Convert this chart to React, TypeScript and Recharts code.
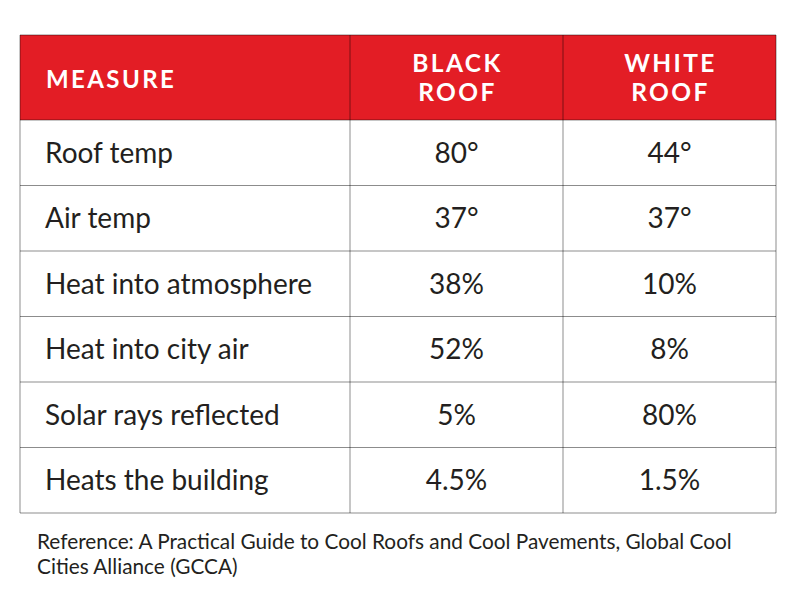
import React from 'react';
import { ScatterChart, Scatter, XAxis, YAxis, CartesianGrid } from 'recharts';

// table contents
const measures = [
  'Roof temp',
  'Air temp',
  'Heat into atmosphere',
  'Heat into city air',
  'Solar rays reflected',
  'Heats the building',
];
const roofTypes = ['BLACK ROOF', 'WHITE ROOF'];
const blackRoof = ['80°', '37°', '38%', '52%', '5%', '4.5%'];
const whiteRoof = ['44°', '37°', '10%', '8%', '80%', '1.5%'];
const headerLabel = 'MEASURE';
const captionLines = [
  'Reference: A Practical Guide to Cool Roofs and Cool Pavements, Global Cool',
  'Cities Alliance (GCCA)',
];

const RED = '#E31D25';
const INK = '#231F20';
const FONT = 'Lato, "Open Sans", sans-serif';

const W = 800;
const H = 600;
const TABLE_LEFT = 20;
const TABLE_TOP = 35;
const TABLE_RIGHT = 776;
const HEADER_H = 85;
const MEASURE_COL_W = 330;
const BOTTOM_GAP = 87;

const blackData = measures.map((m, i) => ({ measure: m, roof: roofTypes[0], text: blackRoof[i] }));
const whiteData = measures.map((m, i) => ({ measure: m, roof: roofTypes[1], text: whiteRoof[i] }));

// edges of every band of a category scale (falls back to an even split of the plot box)
function bandEdges(scale: any, cats: string[], start: number, size: number): number[] {
  try {
    const map =
      typeof scale === 'function' ? scale : typeof scale?.map === 'function' ? (v: string) => scale.map(v) : null;
    if (map && typeof scale.bandwidth === 'function') {
      const bw = scale.bandwidth();
      const edges = new Set<number>();
      cats.forEach((c) => {
        const p = map(c);
        if (Number.isFinite(p)) {
          edges.add(p);
          edges.add(p + bw);
        }
      });
      if (edges.size) return [...edges];
    }
  } catch (e) {
    // fall through
  }
  return Array.from({ length: cats.length + 1 }, (_, i) => start + (i * size) / cats.length);
}

const RowTick = ({ y, payload }: any) => (
  <text x={TABLE_LEFT + 25} y={y} dy={10} textAnchor="start" fill={INK} fontSize={28} fontFamily={FONT}>
    {payload.value}
  </text>
);

const RoofTick = ({ x, payload }: any) => {
  const words = String(payload.value).split(' ');
  return (
    <text x={x} textAnchor="middle" fill="#fff" fontSize={24.5} fontWeight={700} fontFamily={FONT} letterSpacing={2.4}>
      {words.map((w, i) => (
        <tspan key={w} x={x + 1} y={TABLE_TOP + 37 + i * 29}>{w}</tspan>
      ))}
    </text>
  );
};

const MeasureHeader = (props: any) => (
  <text x={TABLE_LEFT + 26} y={TABLE_TOP + 53} fill="#fff" fontSize={24} fontWeight={700} fontFamily={FONT} letterSpacing={2.4}>
    {props.value}
  </text>
);

const CellText = ({ cx, cy, payload }: any) => (
  <text x={cx} y={cy} dy={10} textAnchor="middle" fill={INK} fontSize={28} fontFamily={FONT}>
    {payload.text}
  </text>
);

export default function App() {
  return (
    <div style={{ position: 'absolute', left: 0, top: 0, width: W, height: H, background: '#fff' }}>
      <ScatterChart
        width={W}
        height={H}
        margin={{ top: TABLE_TOP, right: W - TABLE_RIGHT, bottom: BOTTOM_GAP, left: TABLE_LEFT }}
      >
        {/* red header band */}
        <CartesianGrid
          x={TABLE_LEFT}
          y={TABLE_TOP}
          width={TABLE_RIGHT - TABLE_LEFT}
          height={HEADER_H}
          fill={RED}
          fillOpacity={1}
          horizontal={false}
          vertical={false}
        />
        {/* cell borders: dark translucent so they read gray on white, dark red on red */}
        <CartesianGrid
          x={TABLE_LEFT}
          y={TABLE_TOP}
          width={TABLE_RIGHT - TABLE_LEFT}
          height={H - BOTTOM_GAP - TABLE_TOP}
          stroke="#000"
          strokeOpacity={0.45}
          strokeWidth={1}
          horizontalCoordinatesGenerator={({ yAxis, offset }: any) => [
            TABLE_TOP,
            ...bandEdges(yAxis?.scale, measures, offset.top, offset.height),
          ]}
          verticalCoordinatesGenerator={({ xAxis, offset }: any) => [
            TABLE_LEFT,
            ...bandEdges(xAxis?.scale, roofTypes, offset.left, offset.width),
          ]}
        />
        <XAxis
          type="category"
          dataKey="roof"
          orientation="top"
          height={HEADER_H}
          allowDuplicatedCategory={false}
          axisLine={false}
          tickLine={false}
          interval={0}
          tick={<RoofTick />}
        />
        <YAxis
          type="category"
          dataKey="measure"
          width={MEASURE_COL_W}
          reversed
          allowDuplicatedCategory={false}
          axisLine={false}
          tickLine={false}
          interval={0}
          tick={<RowTick />}
          label={{ value: headerLabel, content: <MeasureHeader /> }}
        />
        <Scatter data={blackData} shape={<CellText />} isAnimationActive={false} />
        <Scatter data={whiteData} shape={<CellText />} isAnimationActive={false} />
      </ScatterChart>
      <div
        style={{
          position: 'absolute',
          left: 37,
          top: 528,
          fontFamily: FONT,
          fontSize: 20.8,
          lineHeight: '25px',
          color: INK,
          whiteSpace: 'nowrap',
        }}
      >
        {captionLines.map((l) => (
          <div key={l}>{l}</div>
        ))}
      </div>
    </div>
  );
}
